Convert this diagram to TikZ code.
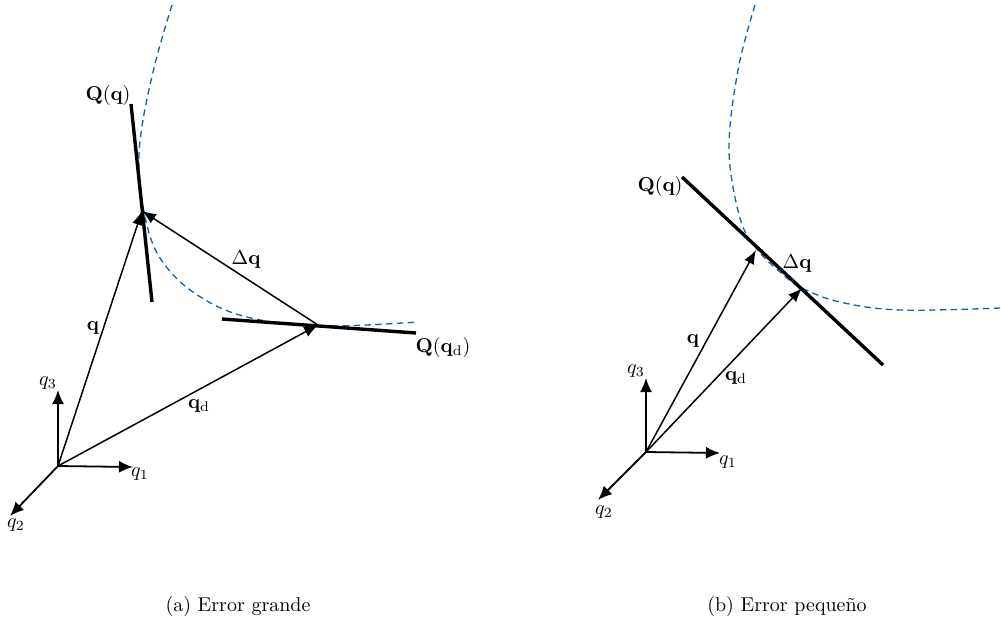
\documentclass[tikz,border=0pt]{standalone}
\usetikzlibrary{arrows.meta}
\definecolor{curveblue}{RGB}{20,95,160}
\tikzset{
  vec/.style={line width=0.75pt,-{Latex[length=7pt,width=5.5pt]}},
  axis/.style={line width=0.9pt,-{Latex[length=7pt,width=6pt]}},
  tang/.style={line width=1.7pt},
  surf/.style={dashed,dash pattern=on 3.2pt off 2.2pt,curveblue,line width=0.65pt},
  lbl/.style={inner sep=0pt,font=\normalsize}
}
\begin{document}
\begin{tikzpicture}[x=0.5pt,y=-0.5pt]
\useasboundingbox (0,0) rectangle (1001,623);
% ---------- (a) ----------
\coordinate (O1) at (58,466);
\coordinate (A1x) at (133,467);
\coordinate (A1z) at (58,390);
\coordinate (A1y) at (10,516);
\coordinate (Ta) at (131,104);
\coordinate (Tb) at (152,302);
\coordinate (P1) at (142,211);
\coordinate (Ua) at (222,319);
\coordinate (Ub) at (416,333);
\coordinate (D1) at (318,325);
\draw[surf] plot[smooth,tension=0.6] coordinates {(172,5) (156,60) (143,120) (139,165) (145,217) (160,258) (193,292) (243,316) (318,326) (418,322)};
\draw[tang] (Ta) -- (Tb);
\draw[tang] (Ua) -- (Ub);
\draw[axis] (O1) -- (A1x);
\draw[axis] (O1) -- (A1z);
\draw[axis] (O1) -- (A1y);
\draw[vec] (O1) -- (P1);
\draw[vec] (O1) -- (D1);
\draw[vec] (D1) -- (P1);
\node[lbl] (l1x) at (140,474) {$q_1$};
\node[lbl] (l1z) at (48,383) {$q_3$};
\node[lbl] (l1y) at (16,525) {$q_2$};
\node[lbl] (l1q) at (93,328) {$\mathbf{q}$};
\node[lbl] (l1d) at (199,406) {$\mathbf{q}_\mathrm{d}$};
\node[lbl] (l1D) at (246,260) {$\Delta\mathbf{q}$};
\node[lbl] (l1Q) at (108,95) {$\mathbf{Q}(\mathbf{q})$};
\node[lbl] (l1Qd) at (443,347) {$\mathbf{Q}(\mathbf{q}_\mathrm{d})$};
\node[lbl] (capa) at (238,606) {(a) Error grande};
% ---------- (b) ----------
\coordinate (O2) at (646,452);
\coordinate (A2x) at (720,453);
\coordinate (A2z) at (646,378);
\coordinate (A2y) at (598,500);
\coordinate (Va) at (682,177);
\coordinate (Vb) at (883,365);
\coordinate (P2) at (756,250);
\coordinate (D2) at (802,288);
\draw[surf] plot[smooth,tension=0.6] coordinates {(755,5) (738,70) (729,150) (740,218) (756,248) (780,272) (802,288) (840,302) (900,310) (1000,308)};
\draw[tang] (Va) -- (Vb);
\draw[axis] (O2) -- (A2x);
\draw[axis] (O2) -- (A2z);
\draw[axis] (O2) -- (A2y);
\draw[vec] (O2) -- (P2);
\draw[vec] (O2) -- (D2);
\node[lbl] (l2x) at (728,462) {$q_1$};
\node[lbl] (l2z) at (636,371) {$q_3$};
\node[lbl] (l2y) at (604,512) {$q_2$};
\node[lbl] (l2q) at (693,341) {$\mathbf{q}$};
\node[lbl] (l2d) at (736,378) {$\mathbf{q}_\mathrm{d}$};
\node[lbl] (l2D) at (797,264) {$\Delta\mathbf{q}$};
\node[lbl] (l2Q) at (660,186) {$\mathbf{Q}(\mathbf{q})$};
\node[lbl] (capb) at (787,606) {(b) Error peque\~no};
\end{tikzpicture}
\end{document}
